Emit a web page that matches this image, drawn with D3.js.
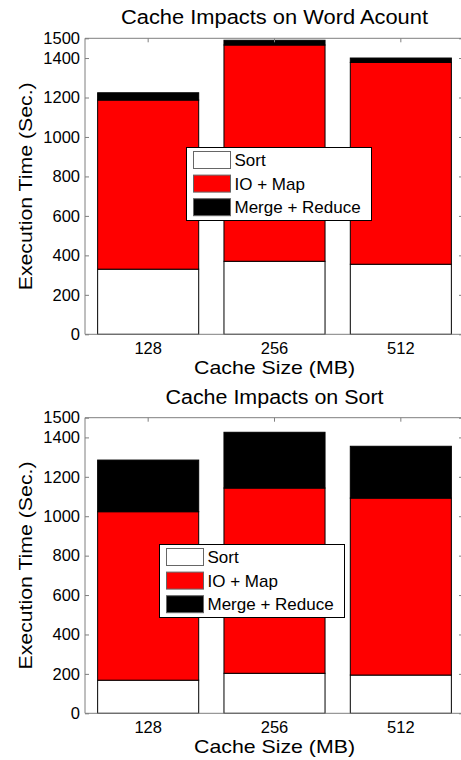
<!DOCTYPE html>
<html>
<head>
<meta charset="utf-8">
<script src="https://cdn.jsdelivr.net/npm/d3@7"></script>
<style>
	body { margin: 0; background: #fff; }
	svg { display: block; font-family: 'Liberation Sans', Arial, sans-serif; }
	.cache-axis-line { stroke: #7f7f7f; stroke-width: 1; fill: none; }
	.cache-bar { stroke: #000; stroke-width: 1; }
	.cache-tick-text { font-size: 16.5px; fill: #000; }
	.cache-label { font-size: 19px; fill: #000; }
	.cache-title { font-size: 20px; fill: #000; }
	.cache-legend-box { fill: #fff; stroke: #000; stroke-width: 1; }
	.cache-legend-patch { stroke: #666; stroke-width: 1; }
	.cache-legend-text { font-size: 17px; fill: #000; }
</style>
</head>
<body>
<svg id="chart" width="461" height="760"></svg>
<script>
'use strict';

// values
var aCategories = ['128', '256', '512'];
var aSeriesNames = ['Sort', 'IO + Map', 'Merge + Reduce'];
var aSeriesColors = ['#ffffff', '#ff0000', '#000000'];
var aYTicks = [0, 200, 400, 600, 800, 1000, 1200, 1400, 1500];

var aWordSort = [330, 370, 355];
var aWordIoMap = [857, 1096, 1023];
var aWordMerge = [37, 24, 22];

var aSortSort = [168, 203, 194];
var aSortIoMap = [855, 940, 898];
var aSortMerge = [262, 283, 263];

function D3_CacheStackedBars(sSvg, aProps)
{
	var rBox = aProps['box'];
	var aKeys = ['s0', 's1', 's2'];

	var aData = aCategories.map(function(strCat, i)
	{
		return { cat: strCat, s0: aProps['series'][0][i], s1: aProps['series'][1][i], s2: aProps['series'][2][i] };
	});

	var aStacked = d3.stack().keys(aKeys)(aData);

	var scaleX = d3.scaleBand()
		.domain(aCategories)
		.range([rBox.left, rBox.right])
		.paddingInner(0.2)
		.paddingOuter(0.1);

	var scaleY = d3.scaleLinear()
		.domain([0, 1500])
		.range([rBox.bottom, rBox.top]);

	var sChart = sSvg.append('g');

	// bars
	sChart.selectAll('.cache-series')
		.data(aStacked)
		.enter()
			.append('g')
				.attr('class', 'cache-series')
				.attr('fill', function(d, i) { return aSeriesColors[i]; })
			.selectAll('rect')
			.data(function(d) { return d; })
			.enter()
				.append('rect')
					.attr('class', 'cache-bar')
					.attr('x', function(d) { return scaleX(d.data.cat); })
					.attr('width', scaleX.bandwidth())
					.attr('y', function(d) { return scaleY(d[1]); })
					.attr('height', function(d) { return scaleY(d[0]) - scaleY(d[1]); });

	// y axis, ticks pointing inward
	var axisY = d3.axisLeft(scaleY)
		.tickValues(aYTicks)
		.tickSizeInner(-4)
		.tickSizeOuter(0)
		.tickPadding(5)
		.tickFormat(d3.format('d'));

	var sAxisY = sChart.append('g')
		.attr('transform', 'translate(' + rBox.left + ',0)')
		.call(axisY);
	sAxisY.select('.domain').remove();
	sAxisY.selectAll('line').attr('stroke', '#7f7f7f');
	sAxisY.selectAll('text').attr('class', 'cache-tick-text').attr('font-size', null).attr('font-family', null);

	// right side ticks
	var axisYR = d3.axisRight(scaleY)
		.tickValues(aYTicks)
		.tickSizeInner(-5)
		.tickSizeOuter(0)
		.tickFormat('');
	var sAxisYR = sChart.append('g')
		.attr('transform', 'translate(' + rBox.right + ',0)')
		.call(axisYR);
	sAxisYR.select('.domain').remove();
	sAxisYR.selectAll('line').attr('stroke', '#7f7f7f');

	// x axis labels
	var axisX = d3.axisBottom(scaleX)
		.tickSize(0)
		.tickPadding(8);
	var sAxisX = sChart.append('g')
		.attr('transform', 'translate(0,' + rBox.bottom + ')')
		.call(axisX);
	sAxisX.select('.domain').remove();
	sAxisX.selectAll('text').attr('class', 'cache-tick-text').attr('font-size', null).attr('font-family', null);

	// top ticks
	var axisXT = d3.axisTop(scaleX)
		.tickSizeInner(-4)
		.tickSizeOuter(0)
		.tickFormat('');
	var sAxisXT = sChart.append('g')
		.attr('transform', 'translate(0,' + rBox.top + ')')
		.call(axisXT);
	sAxisXT.select('.domain').remove();
	sAxisXT.selectAll('line').attr('stroke', '#7f7f7f');

	// axes box
	sChart.append('path')
		.attr('class', 'cache-axis-line')
		.attr('d', 'M' + rBox.right + ',' + rBox.top + 'H' + rBox.left + 'V' + rBox.bottom + 'H' + rBox.right + 'Z');

	var nCenterX = (rBox.left + rBox.right) / 2;
	var nCenterY = (rBox.top + rBox.bottom) / 2;

	sChart.append('text')
		.attr('class', 'cache-title')
		.attr('x', nCenterX)
		.attr('y', rBox.top - 14)
		.attr('text-anchor', 'middle')
		.attr('textLength', aProps['titlewidth'])
		.attr('lengthAdjust', 'spacingAndGlyphs')
		.text(aProps['title']);

	sChart.append('text')
		.attr('class', 'cache-label')
		.attr('x', nCenterX)
		.attr('y', rBox.bottom + 40)
		.attr('text-anchor', 'middle')
		.attr('textLength', 161)
		.attr('lengthAdjust', 'spacingAndGlyphs')
		.text('Cache Size (MB)');

	sChart.append('text')
		.attr('class', 'cache-label')
		.attr('transform', 'translate(32,' + nCenterY + ') rotate(-90)')
		.attr('text-anchor', 'middle')
		.attr('textLength', 208)
		.attr('lengthAdjust', 'spacingAndGlyphs')
		.text('Execution Time (Sec.)');

	// legend
	var rLeg = aProps['legend'];
	var sLegendBox = sChart.append('g')
		.attr('transform', 'translate(' + rLeg.x + ',' + rLeg.y + ')');

	sLegendBox.append('rect')
		.attr('class', 'cache-legend-box')
		.attr('width', 185)
		.attr('height', 73);

	var sLegends = sLegendBox.selectAll('.legend')
		.data(aSeriesNames)
		.enter()
			.append('g')
				.attr('class', 'legend')
				.attr('transform', function(d, i) { return 'translate(7,' + (4 + i * 23.6) + ')'; });

	sLegends.append('rect')
		.attr('class', 'cache-legend-patch')
		.attr('width', 37)
		.attr('height', 17)
		.attr('fill', function(d, i) { return aSeriesColors[i]; });

	sLegends.append('text')
		.attr('class', 'cache-legend-text')
		.attr('x', 41)
		.attr('y', 8.5)
		.attr('dy', '.36em')
		.text(function(d) { return d; });
}

var sSvg = d3.select('#chart');

D3_CacheStackedBars(sSvg, {
	title: 'Cache Impacts on Word Acount',
	titlewidth: 307,
	series: [aWordSort, aWordIoMap, aWordMerge],
	box: { left: 85, right: 464, top: 38.3, bottom: 334.3 },
	legend: { x: 186.5, y: 147.5 }
});

D3_CacheStackedBars(sSvg, {
	title: 'Cache Impacts on Sort',
	titlewidth: 218,
	series: [aSortSort, aSortIoMap, aSortMerge],
	box: { left: 85, right: 464, top: 417.7, bottom: 713.3 },
	legend: { x: 159.5, y: 544.5 }
});
</script>
</body>
</html>
